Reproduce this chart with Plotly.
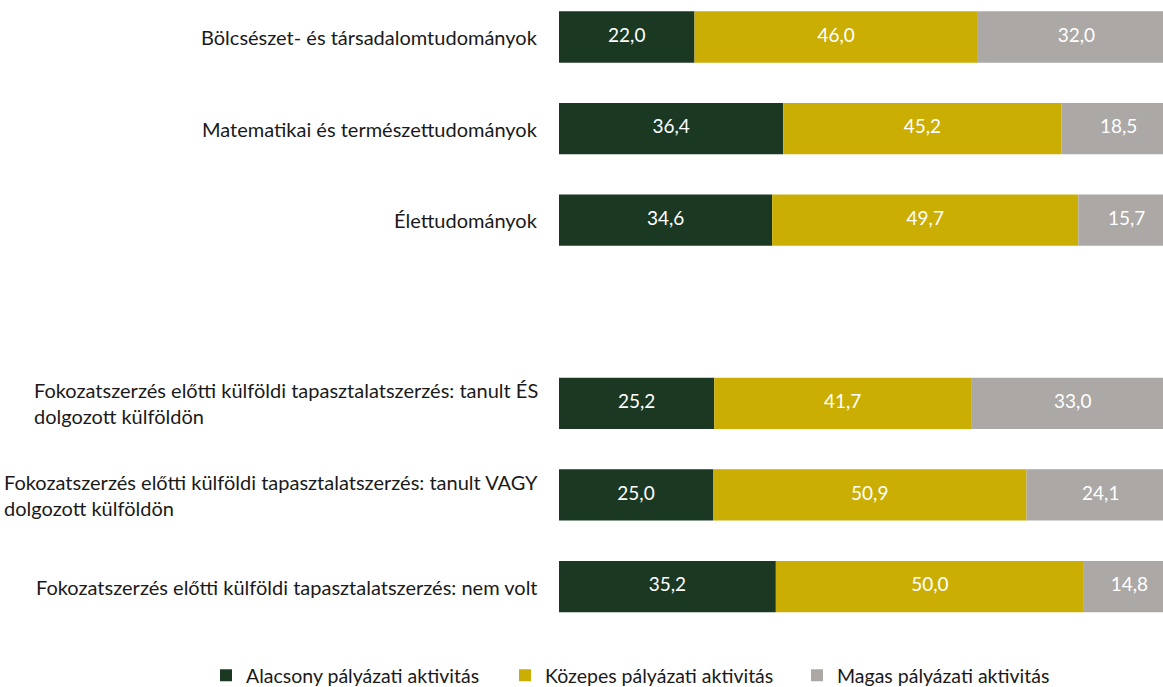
import plotly.graph_objects as go

categories = [
    "Bölcsészet- és társadalomtudományok",
    "Matematikai és természettudományok",
    "Élettudományok",
    " ",
    "Fokozatszerzés előtti külföldi tapasztalatszerzés: tanult ÉS<br>dolgozott külföldön",
    "Fokozatszerzés előtti külföldi tapasztalatszerzés: tanult VAGY<br>dolgozott külföldön",
    "Fokozatszerzés előtti külföldi tapasztalatszerzés: nem volt",
]
low = [22.0, 36.4, 34.6, None, 25.2, 25.0, 35.2]
mid = [46.0, 45.2, 49.7, None, 41.7, 50.9, 50.0]
high = [32.0, 18.5, 15.7, None, 33.0, 24.1, 14.8]
series_names = ["Alacsony pályázati aktivitás", "Közepes pályázati aktivitás", "Magas pályázati aktivitás"]
colors = ["#1B3823", "#CBAE04", "#ABA8A6"]

FONT = "Lato"
fig = go.Figure()

series = [low, mid, high]
legend_ids = ["legend", "legend2", "legend3"]
legend_x = [206, 505, 797]
cum = [0 if v is not None else None for v in low]
for s, name, col, lid in zip(series, series_names, colors, legend_ids):
    fig.add_trace(go.Bar(
        y=categories, x=s, base=cum, orientation="h", name=name,
        marker=dict(color=col, line=dict(width=0)), width=0.56,
        hoverinfo="skip", legend=lid,
    ))
    centers = [(c + v / 2) if v is not None else None for c, v in zip(cum, s)]
    labels = [f"{v:.1f}".replace(".", ",") if v is not None else "" for v in s]
    fig.add_trace(go.Scatter(
        y=categories, x=centers, mode="text", text=labels,
        textfont=dict(family=FONT, size=19, color="white"),
        showlegend=False, hoverinfo="skip", cliponaxis=False,
    ))
    cum = [(c + v) if v is not None else None for c, v in zip(cum, s)]

for cat in categories:
    if cat.strip():
        fig.add_annotation(
            x=0, xref="paper", xshift=-19, xanchor="right",
            y=cat, yref="y", yanchor="middle",
            text=cat, align="left", showarrow=False,
            font=dict(family=FONT, size=20, color="#1a1a1a"),
        )

legend_common = dict(
    orientation="h", xref="container", yref="container",
    xanchor="left", y=0.045, yanchor="top",
    font=dict(family=FONT, size=19.5, color="#1a1a1a"),
    itemclick=False, itemdoubleclick=False,
    bgcolor="rgba(0,0,0,0)",
)

fig.update_layout(
    width=1163, height=687,
    margin=dict(l=559, r=0, t=0, b=55),
    plot_bgcolor="white", paper_bgcolor="white",
    barmode="overlay",
    showlegend=True,
    legend=dict(x=legend_x[0] / 1163, **legend_common),
    legend2=dict(x=legend_x[1] / 1163, **legend_common),
    legend3=dict(x=legend_x[2] / 1163, **legend_common),
    xaxis=dict(range=[0, 98.05], visible=False, fixedrange=True),
    yaxis=dict(
        type="category", categoryorder="array", categoryarray=categories,
        range=[6.496, -0.404], showticklabels=False, showgrid=False,
        zeroline=False, showline=False, ticks="", fixedrange=True,
    ),
)

fig.write_html(
    "out.html",
    config={"displayModeBar": False},
    post_script="document.body.style.margin='0';document.body.style.overflow='hidden';",
)
